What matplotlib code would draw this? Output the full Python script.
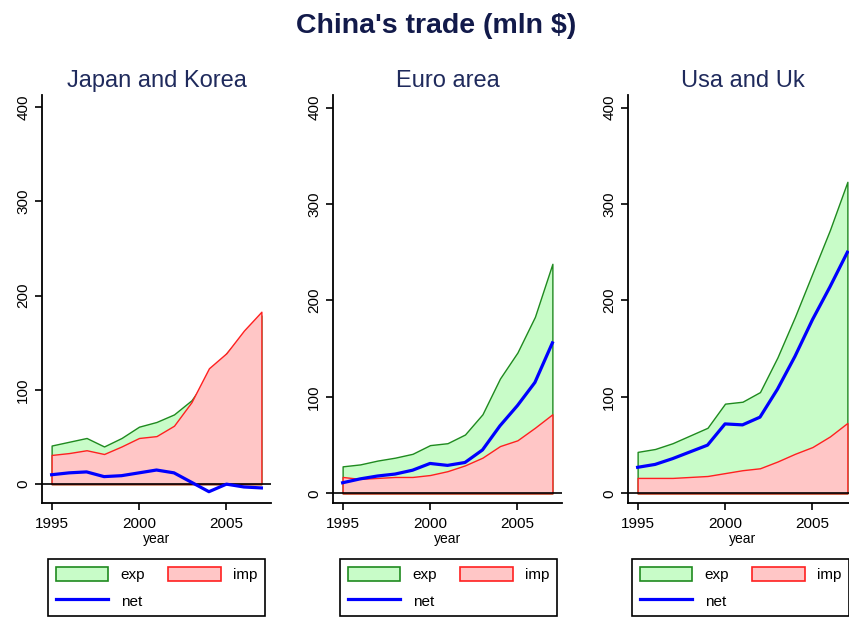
import numpy as np
import matplotlib
matplotlib.use("Agg")
import matplotlib.pyplot as plt
from matplotlib.patches import Patch
from matplotlib.lines import Line2D

plt.rcParams['font.family'] = ['Liberation Sans', 'DejaVu Sans']

years = np.arange(1995, 2008)

# Japan and Korea
jk_exp = [41, 45, 49, 40, 49, 61, 66, 74, 89, 115, 139, 160, 179]
jk_imp = [31, 33, 36, 32, 40, 49, 51, 62, 87, 123, 139, 163, 183]
jk_net = [10, 12, 13, 8, 9, 12, 15, 12, 2, -8, 0, -3, -4]

# Euro area
eu_exp = [28, 30, 34, 37, 41, 50, 52, 61, 82, 119, 146, 183, 238]
eu_imp = [17, 15, 16, 17, 17, 19, 23, 29, 37, 49, 55, 68, 82]
eu_net = [11, 15, 18, 20, 24, 31, 29, 32, 45, 70, 91, 115, 156]

# Usa and Uk
us_exp = [43, 46, 52, 60, 68, 93, 95, 105, 141, 183, 228, 273, 323]
us_imp = [16, 16, 16, 17, 18, 21, 24, 26, 33, 41, 48, 59, 73]
us_net = [27, 30, 36, 43, 50, 72, 71, 79, 108, 142, 180, 214, 250]

titles = ["Japan and Korea", "Euro area", "Usa and Uk"]
exps = [jk_exp, eu_exp, us_exp]
imps = [jk_imp, eu_imp, us_imp]
nets = [jk_net, eu_net, us_net]
ylows = [-20, -10, -10]

navy = "#121a4a"
sub_navy = "#1f2a5c"
green_fill, green_edge = "#c8fcc8", "#1f8a1f"
red_fill, red_edge = "#ffc6c6", "#ff2020"

fig = plt.figure(figsize=(8.49, 6.17), dpi=100)
fig.text(436 / 849, 1 - 26 / 617, "China's trade (mln $)", ha='center', va='center',
         fontsize=20.5, color=navy, fontweight='bold')

lefts = [42, 333, 628]
leg_lefts = [48, 340, 632]
W, H = 849, 617

for i in range(3):
    ax = fig.add_axes([lefts[i] / W, 1 - 503 / H, 229 / W, (503 - 95) / H])
    ax.fill_between(years, 0, exps[i], facecolor=green_fill, edgecolor=green_edge, lw=1)
    ax.fill_between(years, 0, imps[i], facecolor=red_fill, edgecolor=red_edge, lw=1)
    ax.axhline(0, color='black', lw=1.2, zorder=1)
    ax.plot(years, nets[i], color='#0000ff', lw=2.3)
    ax.set_xlim(1994.45, 2007.55)
    ax.set_ylim(ylows[i], 413)
    ax.set_yticks([0, 100, 200, 300, 400])
    ax.set_xticks([1995, 2000, 2005])
    ax.tick_params(axis='y', labelrotation=90, labelsize=11, length=5, width=1.2)
    ax.tick_params(axis='x', labelsize=11, length=5, width=1.2, pad=5)
    for lab in ax.get_yticklabels():
        lab.set_va('center')
    for s in ['top', 'right']:
        ax.spines[s].set_visible(False)
    for s in ['left', 'bottom']:
        ax.spines[s].set_linewidth(1.3)
    ax.set_xlabel("year", fontsize=10, labelpad=1)
    ax.set_title(titles[i], fontsize=17, color=sub_navy, pad=6)

    handles = [Patch(facecolor=green_fill, edgecolor=green_edge, lw=1.2),
               Line2D([], [], color='#0000ff', lw=2.3),
               Patch(facecolor=red_fill, edgecolor=red_edge, lw=1.2)]
    leg = ax.legend(handles, ["exp", "net", "imp"], ncol=2, mode='expand',
                    loc='upper left',
                    bbox_to_anchor=(leg_lefts[i] / W, 1 - 559 / H, 217 / W, 0.0),
                    bbox_transform=fig.transFigure, fontsize=11,
                    borderaxespad=0,
                    handlelength=3.45, handleheight=1.1, fancybox=False,
                    edgecolor='black', framealpha=1, borderpad=0.5,
                    labelspacing=0.72, columnspacing=1.5, handletextpad=0.8)
    leg.get_frame().set_linewidth(1.2)

fig.savefig("out.png", dpi=100)
